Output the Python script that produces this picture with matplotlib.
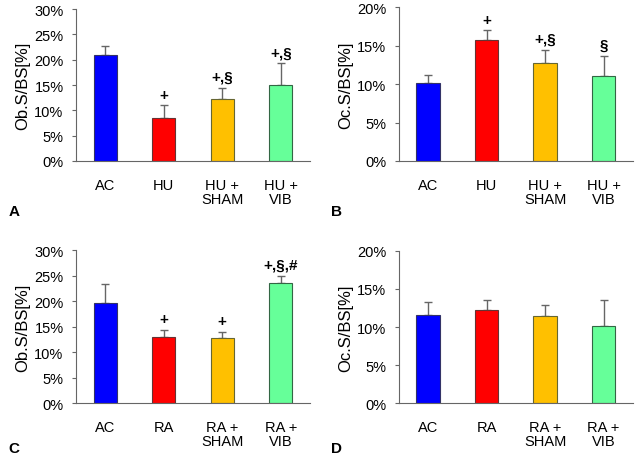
import matplotlib
matplotlib.use("Agg")
import matplotlib.pyplot as plt
from matplotlib.ticker import PercentFormatter

plt.rcParams['font.family'] = ['Liberation Sans', 'DejaVu Sans']

colors = ['#0000ff', '#ff0000', '#ffc000', '#66ff99']
edges = ['#333366', '#663333', '#666633', '#336644']

labels_hu = ['AC', 'HU', 'HU +\nSHAM', 'HU +\nVIB']
labels_ra = ['AC', 'RA', 'RA +\nSHAM', 'RA +\nVIB']

# panel A: Ob.S/BS, hindlimb unloading
a_mean = [21.0, 8.5, 12.2, 15.0]
a_err = [1.8, 2.5, 2.3, 4.3]
a_sig = ['', '+', '+,§', '+,§']

# panel B: Oc.S/BS, hindlimb unloading
b_mean = [10.2, 15.8, 12.7, 11.1]
b_err = [1.0, 1.2, 1.8, 2.6]
b_sig = ['', '+', '+,§', '§']

# panel C: Ob.S/BS, reambulation
c_mean = [19.6, 12.9, 12.7, 23.6]
c_err = [3.7, 1.4, 1.3, 1.4]
c_sig = ['', '+', '+', '+,§,#']

# panel D: Oc.S/BS, reambulation
d_mean = [11.6, 12.2, 11.4, 10.2]
d_err = [1.7, 1.3, 1.5, 3.3]
d_sig = ['', '', '', '']

fig = plt.figure(figsize=(6.36, 4.64), dpi=100)


def panel(rect, labels, mean, err, sig, ymax, ystep, ylabel, letter, lpos):
    ax = fig.add_axes(rect)
    x = [i + 0.5 for i in range(4)]
    ax.bar(x, mean, width=0.4, color=colors, edgecolor=edges, linewidth=0.8, zorder=2)
    ax.errorbar(x, mean, yerr=[[0] * 4, err], fmt='none', ecolor='#666666',
                elinewidth=1, capsize=3, capthick=1, zorder=1)
    for xi, m, e, s in zip(x, mean, err, sig):
        if s:
            ax.text(xi, m + e + ymax * 0.025, s, ha='center', va='bottom',
                    fontsize=11, fontweight='bold')
    ax.set_xlim(0, 4)
    ax.set_ylim(0, ymax)
    ax.set_yticks(range(0, ymax + 1, ystep))
    ax.yaxis.set_major_formatter(PercentFormatter(decimals=0))
    ax.set_xticks(x)
    ax.set_xticklabels(labels, fontsize=10.5, linespacing=1.0)
    ax.tick_params(axis='x', length=0, pad=12)
    ax.tick_params(axis='y', labelsize=10.5, length=3, width=0.8, color='#666666', pad=6)
    ax.spines['top'].set_visible(False)
    ax.spines['right'].set_visible(False)
    ax.spines['left'].set_color('#666666')
    ax.spines['bottom'].set_color('#666666')
    ax.set_ylabel(ylabel, fontsize=12, labelpad=3)
    fig.text(lpos[0], lpos[1], letter, fontsize=11, fontweight='bold', ha='left', va='center')
    return ax


panel([0.1195, 0.651, 0.368, 0.327], labels_hu, a_mean, a_err, a_sig, 30, 5,
      'Ob.S/BS[%]', 'A', (0.013, 0.543))
panel([0.627, 0.651, 0.368, 0.331], labels_hu, b_mean, b_err, b_sig, 20, 5,
      'Oc.S/BS[%]', 'B', (0.52, 0.543))
panel([0.1195, 0.129, 0.368, 0.330], labels_ra, c_mean, c_err, c_sig, 30, 5,
      'Ob.S/BS[%]', 'C', (0.013, 0.032))
panel([0.627, 0.129, 0.368, 0.328], labels_ra, d_mean, d_err, d_sig, 20, 5,
      'Oc.S/BS[%]', 'D', (0.52, 0.032))

fig.savefig('out.png', dpi=100)
